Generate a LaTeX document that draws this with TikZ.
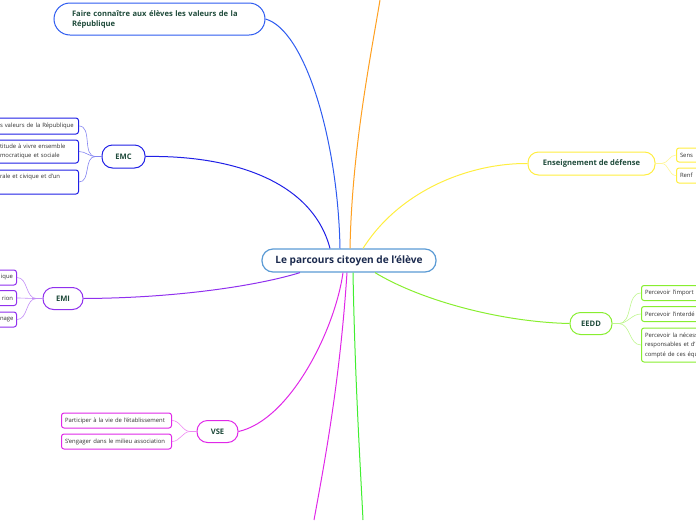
\documentclass[tikz,border=0pt]{standalone}
\usepackage{fontspec}
\setmainfont{Open Sans}
\usepackage{tikz}
\usetikzlibrary{positioning}

\definecolor{rootblue}{HTML}{5B9BD5}
\definecolor{roottext}{HTML}{1B2A4E}
\definecolor{tlblue}{HTML}{2D5BF0}
\definecolor{emcblue}{HTML}{2020E6}
\definecolor{emipurple}{HTML}{9030EE}
\definecolor{vsemag}{HTML}{E028E8}
\definecolor{defyellow}{HTML}{FFEE40}
\definecolor{eeddgreen}{HTML}{88EE30}
\definecolor{toporange}{HTML}{FFA020}
\definecolor{botgreen}{HTML}{40EE30}
\definecolor{nodetext}{HTML}{1E4A3A}
\definecolor{leaftext}{HTML}{333333}

\tikzset{
  branch/.style={draw=#1, line width=1pt, fill=white, rounded corners=10.5pt,
    minimum height=22pt, inner xsep=6pt, text=nodetext,
    font=\bfseries\fontsize{7.6}{10}\selectfont},
  leaf/.style={draw=#1, line width=1pt, fill=white, rounded corners=2.5pt,
    inner sep=3.5pt, minimum height=15pt, text=leaftext,
    font=\fontsize{5.9}{9.5}\selectfont},
  link/.style={draw=#1, line width=1pt},
  twig/.style={draw=#1!55, line width=0.6pt},
}

\begin{document}
\begin{tikzpicture}[x=1pt,y=-1pt]
  \path[use as bounding box, clip] (0,0) rectangle (696,520);

  % centre
  \node[draw=rootblue, line width=1.2pt, fill=white, rounded corners=11pt,
    minimum width=174pt, minimum height=23pt, text=roottext,
    font=\bfseries\fontsize{10.1}{12}\selectfont] (root) at (349,260.5)
    {Le parcours citoyen de l'élève};

  % main branches
  \node[branch=tlblue, rounded corners=16pt, minimum height=32pt,
    inner xsep=18pt, text width=175pt, align=left] (valeurs) at (159.5,19)
    {Faire connaître aux élèves les valeurs de la\\République};
  \node[branch=emcblue, minimum width=43pt, minimum height=23pt] (emc) at (123.5,156.5) {EMC};
  \node[branch=emipurple, minimum width=40pt] (emi) at (63,298.5) {EMI};
  \node[branch=vsemag, minimum width=41pt] (vse) at (217.5,431.5) {VSE};
  \node[branch=defyellow, minimum width=127pt, minimum height=23pt] (defense) at (591.5,163.5)
    {Enseignement de défense};
  \node[branch=eeddgreen, minimum width=42pt] (eedd) at (591,323.5) {EEDD};

  \coordinate (haut) at (380,0);
  \coordinate (basrose) at (314,520);
  \coordinate (basvert) at (363,520);

  % EMC leaves
  \node[leaf=emcblue, anchor=east, text width=75pt, minimum height=16pt, align=left] (emc1) at (79,126)
    {s valeurs de la République};
  \node[leaf=emcblue, anchor=east, text width=75pt, minimum height=23pt, align=left] (emc2) at (79,151.5)
    {titude à vivre ensemble\\mocratique et sociale};
  \node[leaf=emcblue, anchor=east, text width=75pt, minimum height=24pt, align=left] (emc3) at (79,182)
    {rale et civique et d'un\\ \strut};

  % EMI leaves
  \node[leaf=emipurple, anchor=east, text width=13pt, align=right] (emi1) at (17,277.5) {ique};
  \node[leaf=emipurple, anchor=east, text width=13pt, align=right] (emi2) at (17,298) {rion};
  \node[leaf=emipurple, anchor=east, text width=13pt, align=right] (emi3) at (17,319.5) {nage};

  % VSE leaves
  \node[leaf=vsemag, anchor=east, text width=103pt, align=left] (vse1) at (172,420.5)
    {Participer à la vie de l'établissement};
  \node[leaf=vsemag, anchor=east, text width=103pt, align=left] (vse2) at (172,441.5)
    {S'engager dans le milieu association};

  % defense leaves
  \node[leaf=defyellow, anchor=west, text width=60pt, minimum height=14pt, align=left] (def1) at (676,155) {Sens};
  \node[leaf=defyellow, anchor=west, text width=60pt, align=left] (def2) at (676,175.5) {Renf};

  % EEDD leaves
  \node[leaf=eeddgreen, anchor=west, text width=70pt, align=left] (eedd1) at (641,293) {Percevoir l'import};
  \node[leaf=eeddgreen, anchor=west, text width=70pt, align=left] (eedd2) at (641,314) {Percevoir l'interdé};
  \node[leaf=eeddgreen, anchor=west, text width=70pt, minimum height=34pt, align=left] (eedd3) at (641,345)
    {Percevoir la nécess\\responsables et d'\\compté de ces équ};

  % links to the centre
  \draw[link=tlblue] (valeurs.east) .. controls (305,30) and (338,140) .. ([xshift=-9pt]root.north);
  \draw[link=emcblue] (emc.east) .. controls (230,155) and (312,180) .. ([xshift=-19pt]root.north);
  \draw[link=toporange] (haut) .. controls (370,60) and (352,150) .. ([xshift=1pt]root.north);
  \draw[link=defyellow] (defense.west) .. controls (470,163) and (400,190) .. ([xshift=14pt]root.north);
  \draw[link=emipurple] (emi.east) .. controls (180,298) and (260,285) .. ([xshift=-49pt]root.south);
  \draw[link=vsemag] (vse.east) .. controls (290,420) and (335,330) .. ([xshift=-6pt]root.south);
  \draw[link=vsemag] ([xshift=-2pt]root.south) .. controls (340,380) and (325,460) .. (basrose);
  \draw[link=botgreen] ([xshift=4pt]root.south) .. controls (355,380) and (360,460) .. (basvert);
  \draw[link=eeddgreen] ([xshift=26pt]root.south) .. controls (420,300) and (500,322) .. (eedd.west);

  % links to the leaves
  \foreach \n in {emc1,emc2,emc3}
    \draw[twig=emcblue] (emc.west) -- ++(-6,0) to[out=180,in=0] (\n.east);
  \foreach \n in {emi1,emi2,emi3}
    \draw[twig=emipurple] (emi.west) -- ++(-6,0) to[out=180,in=0] (\n.east);
  \foreach \n in {vse1,vse2}
    \draw[twig=vsemag] (vse.west) -- ++(-6,0) to[out=180,in=0] (\n.east);
  \foreach \n in {def1,def2}
    \draw[twig=defyellow] (defense.east) -- ++(6,0) to[out=0,in=180] (\n.west);
  \foreach \n in {eedd1,eedd2,eedd3}
    \draw[twig=eeddgreen] (eedd.east) -- ++(6,0) to[out=0,in=180] (\n.west);
\end{tikzpicture}
\end{document}
